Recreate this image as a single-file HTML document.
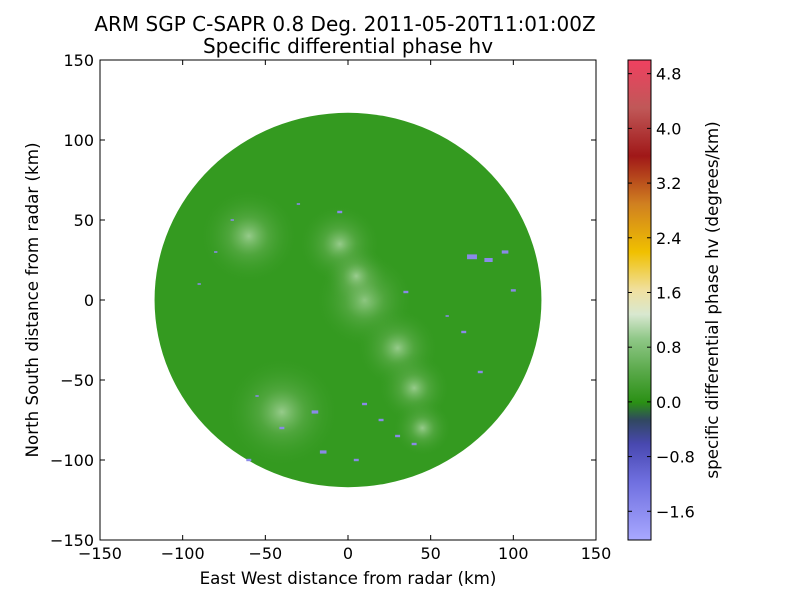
<!DOCTYPE html>
<html><head><meta charset="utf-8"><style>
body{margin:0;background:#fff;}
svg text{font-family:"DejaVu Sans","Liberation Sans",sans-serif;}
</style></head><body>
<svg id="chart" width="800" height="600" viewBox="0 0 800 600">
<defs>
<linearGradient id="cbgrad" x1="0" y1="1" x2="0" y2="0">
<stop offset="0" stop-color="#a8a8ff"/>
<stop offset="0.12" stop-color="#7070e0"/>
<stop offset="0.2" stop-color="#4848b0"/>
<stop offset="0.25" stop-color="#304860"/>
<stop offset="0.286" stop-color="#2a9014"/>
<stop offset="0.35" stop-color="#58a848"/>
<stop offset="0.42" stop-color="#90c888"/>
<stop offset="0.47" stop-color="#d8e8d0"/>
<stop offset="0.52" stop-color="#f0e0a0"/>
<stop offset="0.6" stop-color="#f0c000"/>
<stop offset="0.7" stop-color="#d08020"/>
<stop offset="0.8" stop-color="#a01818"/>
<stop offset="0.9" stop-color="#c05858"/>
<stop offset="1" stop-color="#f04060"/>
</linearGradient>
<radialGradient id="haze" cx="0.5" cy="0.5" r="0.5">
<stop offset="0" stop-color="#c0e0b8" stop-opacity="0.7"/>
<stop offset="0.4" stop-color="#80bb70" stop-opacity="0.35"/>
<stop offset="1" stop-color="#349a20" stop-opacity="0"/>
</radialGradient>
<clipPath id="axclip"><rect x="100" y="60" width="496" height="480"/></clipPath>
</defs>
<text x="345" y="31" font-size="20" text-anchor="middle">ARM SGP C-SAPR 0.8 Deg. 2011-05-20T11:01:00Z</text>
<text x="348" y="53" font-size="20" text-anchor="middle">Specific differential phase hv</text>
<g id="plot" clip-path="url(#axclip)"></g>
<rect x="100" y="60" width="496" height="480" fill="none" stroke="#000"/>
<g id="axes"></g>
<text x="348" y="584" font-size="16.7" text-anchor="middle">East West distance from radar (km)</text>
<text transform="translate(38,300) rotate(-90)" font-size="16.7" text-anchor="middle">North South distance from radar (km)</text>
<rect x="628" y="60" width="23" height="480" fill="url(#cbgrad)" stroke="#000"/>
<g id="cbticks"></g>
<text transform="translate(718,300) rotate(-90)" font-size="16.7" text-anchor="middle">specific differential phase hv (degrees/km)</text>
</svg>
<script>
const xTicks=[-150,-100,-50,0,50,100,150];
const yTicks=[-150,-100,-50,0,50,100,150];
const cbTicks=[-1.6,-0.8,0.0,0.8,1.6,2.4,3.2,4.0,4.8];
const rangeKm=117;
// negative-KDP patches: [x km, y km, size km]
const patchX=[75,85,95,100,-20,10,-15,5,30,40,-40,-60,70,80,35,-80,-90,-70,-55,20,60,-30,-5];
const patchY=[27,25,30,6,-70,-65,-95,-100,-85,-90,-80,-100,-20,-45,5,30,10,50,-60,-75,-10,60,55];
const patchS=[6,5,4,3,4,3,4,3,3,3,3,3,3,3,3,2,2,2,2,3,2,2,3];
// enhanced bright region: [x km, y km, radius km]
const brightX=[10,30,40,45,-5,5,-40,-60];
const brightY=[0,-30,-55,-80,35,15,-70,40];
const brightR=[30,25,22,18,25,20,35,30];
const X0=100,X1=596,Y0=60,Y1=540;
const xs=v=>X0+(v+150)/300*(X1-X0);
const ys=v=>Y1-(v+150)/300*(Y1-Y0);
const cs=v=>540-(v+2.02)/7.02*480;
const NS='http://www.w3.org/2000/svg';
function mk(t,a,p){const e=document.createElementNS(NS,t);for(const k in a)e.setAttribute(k,a[k]);p.appendChild(e);return e;}
const plot=document.getElementById('plot');
const disk=mk('ellipse',{cx:xs(0),cy:ys(0),rx:xs(rangeKm)-xs(0),ry:ys(0)-ys(rangeKm),fill:'#349a20'},plot);


for(let i=0;i<brightX.length;i++){
const b=mk('ellipse',{cx:xs(brightX[i]),cy:ys(brightY[i]),rx:xs(brightR[i])-xs(0),ry:ys(0)-ys(brightR[i]),fill:'url(#haze)'},plot);


}
for(let i=0;i<patchX.length;i++){
const p=mk('rect',{x:xs(patchX[i]-patchS[i]/2),y:ys(patchY[i]+patchS[i]/4),width:xs(patchS[i])-xs(0),height:(ys(0)-ys(patchS[i]))/2,fill:'#8a8ae8'},plot);


}
const ax=document.getElementById('axes');
xTicks.forEach(v=>{const x=xs(v);
mk('line',{x1:x,x2:x,y1:Y1,y2:Y1-5,stroke:'#000'},ax);mk('line',{x1:x,x2:x,y1:Y0,y2:Y0+5,stroke:'#000'},ax);
const t=mk('text',{x:x,y:Y1+19,'font-size':16,'text-anchor':'middle'},ax);t.textContent=v===0?'0':String(v).replace('-','\u2212');

});
yTicks.forEach(v=>{const y=ys(v);
mk('line',{x1:X0,x2:X0+5,y1:y,y2:y,stroke:'#000'},ax);mk('line',{x1:X1,x2:X1-5,y1:y,y2:y,stroke:'#000'},ax);
const t=mk('text',{x:X0-6,y:y+6,'font-size':16,'text-anchor':'end'},ax);t.textContent=String(v).replace('-','\u2212');

});
const cb=document.getElementById('cbticks');
cbTicks.forEach(v=>{const y=cs(v);
mk('line',{x1:628,x2:632,y1:y,y2:y,stroke:'#000'},cb);mk('line',{x1:651,x2:647,y1:y,y2:y,stroke:'#000'},cb);
const t=mk('text',{x:656,y:y+6,'font-size':16},cb);t.textContent=v.toFixed(1).replace('-','\u2212');

});
</script>
</body></html>
